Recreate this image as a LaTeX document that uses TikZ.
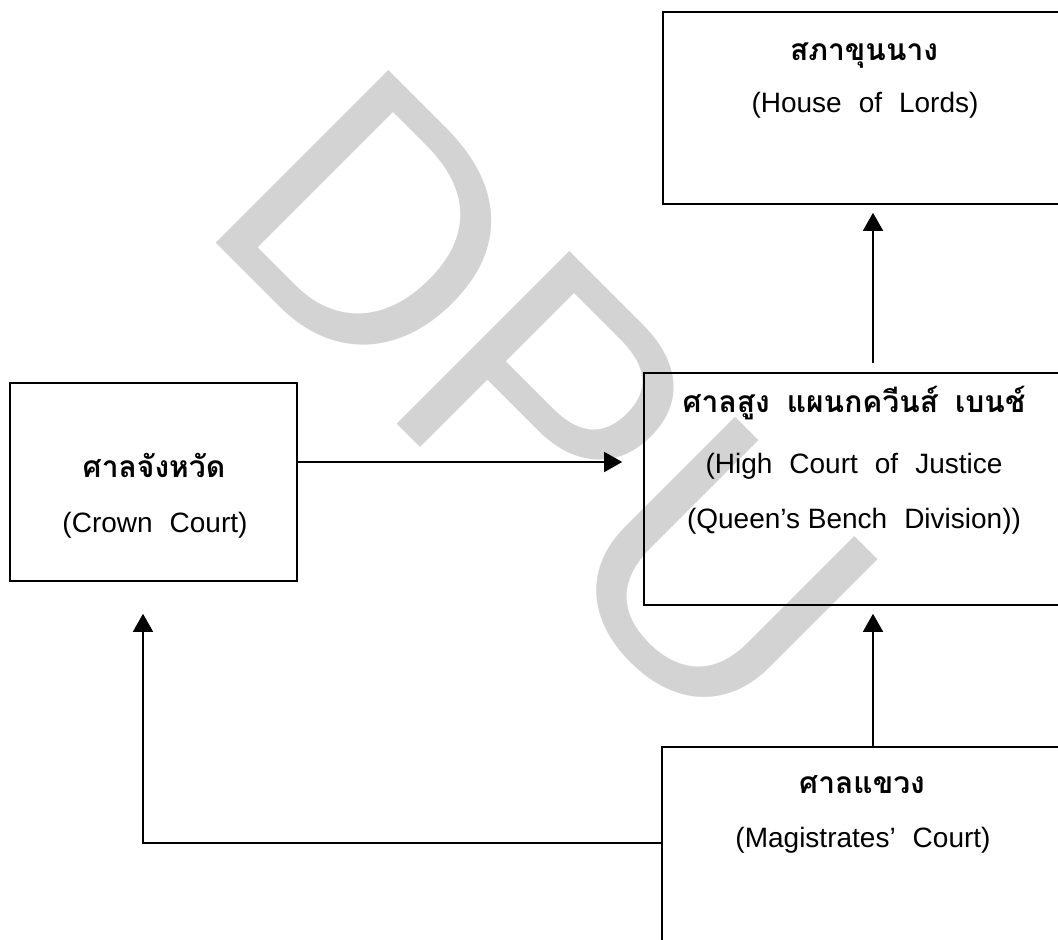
\documentclass[tikz,border=0pt]{standalone}
\usepackage{fontspec}
\setmainfont{Liberation Sans}
\newfontfamily\thaifont[Script=Thai]{Loma}
\usetikzlibrary{arrows.meta}
\definecolor{wm}{RGB}{211,211,211}
\tikzset{
  box/.style={draw=black, line width=1.6pt, rectangle, inner sep=0pt},
  thai/.style={anchor=base, font=\thaifont\bfseries\fontsize{30}{34}\selectfont, inner sep=0pt},
  eng/.style={anchor=base, font=\fontsize{28}{32}\selectfont, inner sep=0pt},
  arr/.style={line width=1.6pt, -{Triangle[length=18pt,width=20pt]}},
}
\newcommand{\gap}{\hspace{17pt}}
\begin{document}
\begin{tikzpicture}[x=1pt,y=-1pt]
\useasboundingbox (0,0) rectangle (1058,940);
\clip (0,0) rectangle (1058,940);
% watermark
\node[text=wm, font=\fontsize{355}{355}\selectfont, rotate=-45, anchor=base west, inner sep=0pt] (wmk) at (195,222) {DPU};
% boxes
\node[box, minimum width=400pt, minimum height=192pt] (hol) at (863,108) {};
\node[box, minimum width=422pt, minimum height=232pt] (high) at (855,489) {};
\node[box, minimum width=287pt, minimum height=198pt] (crown) at (153.5,482) {};
\node[box, minimum width=400pt, minimum height=252pt] (mag) at (862,873) {};
% texts
\node[thai] (holt) at (864,60) {สภาขุนนาง};
\node[eng] (hole) at (865,112) {(House\gap of\gap Lords)};
\node[thai] (hight) at (854,412) {ศาลสูง\gap แผนกควีนส์\gap เบนช์};
\node[eng] (highe1) at (854,473) {(High\gap Court\gap of\gap Justice};
\node[eng] (highe2) at (854,528) {(Queen’s Bench\gap Division))};
\node[thai] (crownt) at (154,477) {ศาลจังหวัด};
\node[eng] (crowne) at (155,532) {(Crown\gap Court)};
\node[thai] (magt) at (862,793) {ศาลแขวง};
\node[eng] (mage) at (863,847) {(Magistrates’\gap Court)};
% helper coordinates
\coordinate (vx) at (873,0);
\coordinate (ay) at (0,462);
\coordinate (by) at (0,843);
\coordinate (cx) at (143,0);
% connectors
\draw[arr, shorten <=9pt, shorten >=8pt] (high.north -| vx) -- (hol.south -| vx);
\draw[arr, shorten >=21pt] (crown.east |- ay) -- (high.west |- ay);
\draw[arr, shorten >=8pt] (mag.north -| vx) -- (high.south -| vx);
\draw[arr, shorten >=32pt] (mag.west |- by) -| (crown.south -| cx);
\end{tikzpicture}
\end{document}
